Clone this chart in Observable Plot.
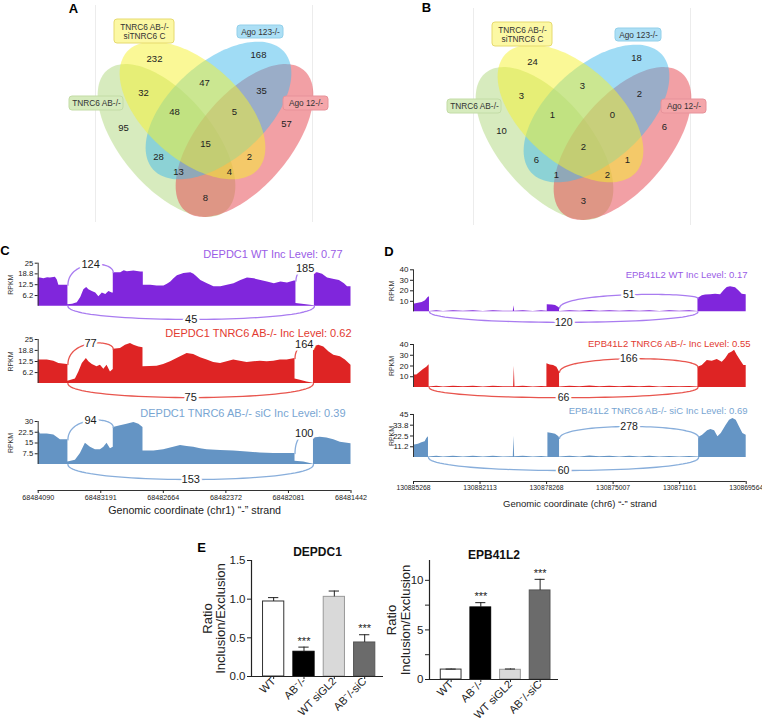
<!DOCTYPE html>
<html><head><meta charset="utf-8">
<script src="https://cdn.jsdelivr.net/npm/d3@7"></script>
<script src="https://cdn.jsdelivr.net/npm/@observablehq/plot@0.6"></script>
<style>
body{margin:0;background:#fff;}
#fig{position:relative;width:762px;height:723px;overflow:hidden;background:#fff;font-family:"Liberation Sans",Arial,Helvetica,sans-serif;}
</style></head><body><div id="fig"></div>
<script>
// ---------------- DATA ----------------
// Venn (A, B): set names (green, yellow, blue, red)
const setNames = ["TNRC6 AB-/-", "TNRC6 AB-/-\nsiTNRC6 C", "Ago 123-/-", "Ago 12-/-"];
// region counts, order: Y, B, GY, YB, BR, G, GYB, YBR, R, GYBR, GB, YR, GBR, GYR, GR
const countsA = [232, 168, 32, 47, 35, 95, 48, 5, 57, 15, 28, 2, 13, 4, 8];
const countsB = [24, 18, 3, 3, 2, 10, 1, 0, 6, 2, 6, 1, 1, 2, 3];

// C: DEPDC1 coverage [relative position 0-100, RPKM]
const depdc1WT = [[0,16.4],[0.7,16.4],[1.8,15.9],[3.0,16.6],[3.9,16.4],[5.5,16.8],[6.1,15.3],[6.6,12.2],[9.3,12.2],[9.5,12.2],[9.5,0.8],[11,1.2],[12.5,2.0],[13.6,5.0],[14.6,9.5],[15.5,10.8],[16.2,9.5],[17.3,8.6],[18.4,7.7],[19.4,5.5],[20.5,7.7],[21.6,6.8],[22.6,8.6],[23.7,7.7],[24.0,7.7],[24.0,19.5],[26.4,19.5],[27.5,20.6],[28.5,20.0],[30.6,20.4],[32.8,19.9],[33.6,19.9],[33.6,12.2],[36.0,12.2],[38,11.8],[40.2,11.8],[41.3,12.8],[42.4,14.0],[43.4,15.9],[44.5,17.7],[46.6,19.0],[48.8,19.5],[49.8,18.6],[50.9,16.8],[52.0,15.0],[54.1,13.0],[56.2,11.3],[58.4,11.3],[60.5,12.2],[62.6,13.0],[64.8,15.0],[66.9,16.4],[69.1,15.9],[71.2,15.0],[73.3,14.0],[75.5,13.0],[77.6,14.0],[79.7,13.5],[81.9,14.6],[82.4,14.6],[82.4,1.5],[85.1,1.0],[88.3,0.2],[88.3,19.5],[89.3,19.5],[90.9,18.6],[92.5,16.4],[94.7,15.5],[96.3,15.0],[97.9,13.0],[98.9,11.3],[100,11.3]];
const depdc1AB = [[0,13.3],[2.9,13.3],[5.0,12.7],[6.6,11.4],[9.3,10.8],[9.5,10.8],[9.5,1.3],[11.9,2.5],[13.0,6.6],[14.1,11.4],[15.4,14.2],[16.2,12.3],[17.3,10.8],[18.8,9.5],[19.9,10.4],[21.0,8.1],[22.0,10.4],[23.1,6.6],[24.0,8.0],[24.0,19.5],[26.3,19.9],[27.9,21.8],[29.5,22.7],[30.6,21.8],[32.2,20.8],[33.5,20.3],[33.5,9.5],[38.0,9.8],[40.1,10.8],[42.3,12.3],[45.5,15.2],[47.6,17.0],[49.7,16.5],[51.9,14.6],[54.0,13.3],[56.1,11.9],[58.3,11.4],[60.4,12.3],[62.5,13.3],[64.6,12.7],[66.8,11.9],[68.9,12.3],[71.0,12.7],[73.2,12.3],[75.3,12.7],[77.4,13.3],[79.6,13.3],[82.1,14.2],[82.1,2.5],[83.8,1.9],[85.9,0.9],[88.0,0.1],[88.0,20.8],[89.7,21.8],[91.3,20.8],[92.9,18.0],[94.5,16.1],[96.6,15.2],[98.2,13.3],[100,10.4]];
const depdc1SiC = [[0,24.0],[0.7,21.3],[2.9,21.3],[5.0,20.6],[7.1,17.2],[9.3,17.2],[9.5,17.2],[9.5,1.8],[11.9,3.0],[13.5,7.6],[15.1,14.9],[16.7,12.1],[18.3,10.3],[19.9,10.3],[21.0,12.1],[22.0,14.9],[23.1,11.0],[24.0,12.1],[24.0,25.9],[26.3,27.0],[28.4,28.1],[30.6,29.3],[32.2,28.1],[33.5,25.9],[33.5,9.4],[37.0,9.4],[40.1,10.3],[43.3,12.1],[45.5,13.3],[47.6,12.6],[49.7,12.1],[51.9,11.0],[54.0,10.3],[58.3,9.8],[62.5,9.4],[66.8,8.7],[71.0,8.0],[75.3,7.6],[79.6,7.6],[82.1,7.6],[82.1,2.3],[84.9,1.8],[88.0,0.2],[88.0,18.5],[90.2,19.0],[92.3,18.5],[94.5,17.2],[96.6,15.6],[100,14.4]];
// junctions [from, to, reads]
const depdc1WTJunc = [[9.5,24.0,124],[82.4,88.3,185],[9.5,88.3,45]];
const depdc1ABJunc = [[9.5,24.0,77],[82.1,88.0,164],[9.5,88.0,75]];
const depdc1SiCJunc = [[9.5,24.0,94],[82.1,88.0,100],[9.5,88.0,153]];
const depdc1Coords = ["68484090","68483191","68482664","68482372","68482081","68481442"];

// D: EPB41L2 coverage
const epbWT = [[0,7.3],[1.1,7.9],[2.6,8.9],[3.6,10.5],[4.4,13.7],[4.8,14.3],[4.8,0.4],[7,1.0],[9,0.4],[12,1.1],[15,0.5],[18,1.0],[21,0.4],[24,1.1],[27,0.5],[30.0,0.6],[30.2,5.7],[30.4,0.6],[33,1.0],[36,0.4],[38.5,0.9],[40.2,0.5],[40.2,6.7],[41.7,6.5],[42.7,6.0],[43.7,4.1],[43.9,3.5],[43.9,0.4],[47,1.0],[50,0.5],[53,1.2],[56,0.5],[59,1.0],[62,0.5],[65,1.0],[68,0.5],[71,1.0],[74,0.4],[77,0.9],[80,0.5],[83,0.9],[85.5,0.4],[85.5,12.7],[86.8,15.2],[87.8,15.9],[89.3,16.2],[90.8,16.8],[92.3,16.2],[93.3,20.0],[94.3,23.2],[95.3,23.8],[96.8,22.9],[97.8,20.0],[98.8,16.8],[100,16.2]];
const epbAB = [[0,11.7],[1.0,11.7],[2.0,14.2],[3.0,16.7],[4.0,18.9],[4.7,21.1],[4.7,0.5],[7,1.2],[9,0.5],[12,1.2],[15,0.6],[18,1.2],[21,0.5],[24,1.2],[27,0.6],[30.1,0.8],[30.3,19.8],[30.5,0.8],[33,1.2],[36,0.5],[38.5,1.0],[40.1,0.6],[40.1,22.0],[41.1,21.0],[42.1,20.5],[43.1,18.9],[43.9,14.2],[43.9,0.5],[47,1.2],[50,0.6],[53,1.4],[56,0.6],[59,1.2],[62,0.6],[65,1.2],[68,0.6],[71,1.2],[74,0.5],[77,1.0],[80,0.6],[83,1.0],[85.5,0.5],[85.5,18.9],[86.8,20.5],[88.3,25.2],[89.8,24.4],[91.3,26.1],[92.8,23.6],[93.8,26.8],[94.8,31.5],[95.8,33.0],[96.5,34.6],[97.3,29.9],[98.3,25.2],[99.3,20.5],[100,20.5]];
const epbSiC = [[0,12.9],[1.5,13.9],[2.5,15.3],[3.5,16.4],[4.0,19.9],[4.5,21.6],[4.5,0.5],[7,1.3],[9,0.6],[12,1.3],[15,0.6],[18,1.3],[21,0.6],[24,1.3],[27,0.6],[30.0,0.8],[30.2,22.3],[30.4,0.8],[33,1.3],[36,0.6],[38.5,1.1],[40.4,0.6],[40.4,25.8],[41.7,25.1],[42.7,24.4],[43.7,21.6],[43.9,20.0],[43.9,0.6],[47,1.3],[50,0.6],[53,1.6],[56,0.7],[59,1.3],[62,0.6],[65,1.3],[68,0.6],[71,1.3],[74,0.6],[77,1.1],[80,0.6],[83,1.1],[85.7,0.6],[85.7,20.9],[86.9,23.3],[88.4,27.9],[89.4,29.3],[90.5,27.9],[91.5,21.6],[92.5,25.1],[94.0,33.8],[95.0,39.0],[96.0,40.8],[97.0,39.0],[98.0,32.0],[99.0,25.1],[100,23.3]];
const epbWTJunc = [[43.9,85.5,51],[4.8,85.5,120]];
const epbABJunc = [[43.9,85.5,166],[4.7,85.5,66]];
const epbSiCJunc = [[43.9,85.7,278],[4.5,85.7,60]];
const epbCoords = ["130885268","130882113","130878268","130875007","130871161","130869564"];

// E: RT-qPCR ratios
const conditions = ["WT", "AB\u207B/-", "WT siGL2", "AB\u207B/-siC"];
const depdc1Ratio = [0.97, 0.32, 1.03, 0.44];
const depdc1Err = [0.05, 0.06, 0.075, 0.10];
const epbRatio = [1.0, 7.27, 0.98, 8.98];
const epbErr = [0.05, 0.48, 0.08, 1.12];
const signif = ["", "***", "", "***"];

// ---------------- LAYOUT / STYLE ----------------
const FONT = '"Liberation Sans", Arial, Helvetica, sans-serif';
const fig = document.getElementById("fig");
const baseStyle = {fontFamily: FONT, fontSize: "10px", color: "#222", background: "transparent", overflow: "visible"};
function place(el, left, top) {
  el.style.position = "absolute"; el.style.left = left + "px"; el.style.top = top + "px";
  fig.appendChild(el);
}
// Venn geometry in panel pixel coordinates (green, yellow, blue, red)
const vennEllipses = [
  {cx: 166, cy: 140, a: 92, b: 46, angle: 50},
  {cx: 192, cy: 110, a: 88, b: 48, angle: 42},
  {cx: 218, cy: 110, a: 88, b: 48, angle: 138},
  {cx: 244, cy: 140, a: 92, b: 46, angle: 130}
];
const vennFills = ["#AFD77D", "#F5F12D", "#41B9EB", "#E5414B"];
const drawOrder = [0, 3, 2, 1];
const vennBoxes = [
  {x1: 69, x2: 123, y1: 96, y2: 110, fill: "#d6ebbd", stroke: "#c3dca6"},
  {x1: 114, x2: 174, y1: 19, y2: 43, fill: "#fcf8a4", stroke: "#e6da6e"},
  {x1: 237, x2: 283, y1: 25, y2: 38, fill: "#acdff5", stroke: "#93d0ea"},
  {x1: 283, x2: 328, y1: 96, y2: 110, fill: "#f4a6aa", stroke: "#e7929a"}
];
const regionPos = [[154,58],[258,54],[143,92],[204,82],[261,90],[123,127],[174,111],[234,111],[286,123],[205,143],[158,156],[249,156],[178,171],[229,171],[205,197]];

function venn(counts, letter, lx, ly, left, top) {
  const W = 340, H = 230;
  const marks = [Plot.ruleX([95, 312], {x: d => d, y1: 5, y2: 222, stroke: "#ececec"})];
  for (const k of drawOrder) {
    const e = vennEllipses[k], th = e.angle * Math.PI / 180, pts = [];
    for (let i = 0; i <= 160; i++) {
      const t = i / 160 * 2 * Math.PI;
      pts.push({x: e.cx + e.a * Math.cos(th) * Math.cos(t) - e.b * Math.sin(th) * Math.sin(t),
                y: e.cy + e.a * Math.sin(th) * Math.cos(t) + e.b * Math.cos(th) * Math.sin(t)});
    }
    marks.push(Plot.line(pts, {x: "x", y: "y", fill: vennFills[k], fillOpacity: 0.5, stroke: "none"}));
  }
  const boxes = vennBoxes.map((b, i) => ({...b, name: setNames[i]}));
  marks.push(
    Plot.rect(boxes, {x1: "x1", x2: "x2", y1: "y1", y2: "y2", fill: "fill", stroke: "stroke", rx: 3}),
    Plot.text(boxes, {x: d => (d.x1 + d.x2) / 2, y: d => (d.y1 + d.y2) / 2, text: "name", fontSize: 8.3, lineHeight: 1.1, fill: "#333"}),
    Plot.text(counts, {x: (d, i) => regionPos[i][0], y: (d, i) => regionPos[i][1], text: d => String(d), fontSize: 9.5, fill: "#222"}),
    Plot.text([letter], {x: lx, y: ly, fontWeight: "bold", fontSize: 13, fill: "#000"})
  );
  const p = Plot.plot({width: W, height: H, margin: 0, style: baseStyle,
    x: {domain: [0, W], range: [0, W], axis: null}, y: {domain: [0, H], range: [0, H], axis: null},
    color: {type: "identity"}, marks});
  place(p, left, top);
}
venn(countsA, "A", 73, 8, 0, 0);
venn(countsB, "B", 48, 4.5, 378, 3);

// Sashimi tracks
function bezier(x1, x2, yA, yB, apex, id) {
  const c = (apex - (yA + yB) / 8) / 0.75, pts = [];
  for (let i = 0; i <= 48; i++) {
    const t = i / 48, u = 1 - t;
    pts.push({id, x: u*u*u*x1 + 3*u*u*t*x1 + 3*u*t*t*x2 + t*t*t*x2,
              y: u*u*u*yA + 3*u*u*t*c + 3*u*t*t*c + t*t*t*yB});
  }
  return pts;
}
function track(cfg) {
  const fb = cfg.frameBottom ?? (cfg.top + cfg.height);
  const mL = cfg.x0 - cfg.left, mR = cfg.left + cfg.width - cfg.x1, mB = cfg.top + cfg.height - fb;
  const px = X => (X - cfg.x0) / (cfg.x1 - cfg.x0) * 100;
  const py = Y => (cfg.base - Y) / cfg.k;
  const yTop = py(cfg.top), yBot = py(fb);
  const yMax = cfg.ticks[cfg.ticks.length - 1];
  const cov = cfg.cov;
  const startVal = x => { const p = cov.find(d => d[0] === x); return p ? p[1] : 0; };
  const endVal = x => { const ps = cov.filter(d => d[0] === x); return ps.length ? ps[ps.length - 1][1] : 0; };
  let arcs = [], labels = [];
  cfg.junc.forEach((j, i) => {
    const apex = cfg.apex[i];
    const up = apex > 0;
    arcs = arcs.concat(bezier(j[0], j[1], up ? startVal(j[0]) : 0, up ? endVal(j[1]) : 0, apex, i));
    labels.push({x: (j[0] + j[1]) / 2, y: apex, t: String(j[2])});
  });
  const marks = [
    Plot.areaY(cov, {x: d => d[0], y1: 0, y2: d => d[1], fill: cfg.color, curve: "linear"}),
    Plot.line(arcs, {x: "x", y: "y", z: "id", stroke: cfg.arcColor, strokeWidth: 1.3}),
    Plot.text(labels, {x: "x", y: "y", text: "t", fontSize: cfg.labelSize, fill: "#1a1a1a", stroke: "white", strokeWidth: 5}),
    Plot.ruleX([0], {y1: 0, y2: yMax, stroke: "#333", strokeWidth: 1}),
    Plot.axisY({ticks: cfg.ticks, tickFormat: d => String(d), tickSize: 3, tickPadding: 2, fontSize: cfg.tickFont, label: null}),
    Plot.text(["RPKM"], {x: px(cfg.rpkmX), y: yMax / 2, rotate: -90, fontSize: 7, fill: "#333"}),
    Plot.text([cfg.title], {x: px(cfg.titleX), y: py(cfg.titleY), textAnchor: "end", fill: cfg.titleColor, fontSize: cfg.titleSize})
  ];
  if (cfg.letter) marks.push(Plot.text([cfg.letter], {x: px(cfg.letterX), y: py(cfg.letterY), fontWeight: "bold", fontSize: 13, fill: "#000"}));
  if (cfg.xLabels) {
    marks.push(
      Plot.ruleY([yBot], {x1: 0, x2: 100, stroke: "#333"}),
      Plot.axisX({ticks: [0, 20, 40, 60, 80, 100], tickFormat: d => cfg.xLabels[Math.round(d / 20)], tickSize: 3, tickPadding: 1, fontSize: cfg.xTickFont, label: null}),
      Plot.text([cfg.xTitle], {frameAnchor: "bottom", dy: cfg.xTitleY - fb, fontSize: cfg.xTitleSize, fill: "#222"})
    );
  }
  const p = Plot.plot({width: cfg.width, height: cfg.height, marginLeft: mL, marginRight: mR, marginTop: 0, marginBottom: mB,
    style: baseStyle, x: {domain: [0, 100], axis: cfg.xLabels ? undefined : null}, y: {domain: [yBot, yTop]}, marks});
  place(p, cfg.left, cfg.top);
}
const PURPLE = {color: "#8026dc", arcColor: "#a97cf0", titleColor: "#9a5ce6"};
const RED = {color: "#de2424", arcColor: "#e8554e", titleColor: "#e23a30"};
const BLUE = {color: "#6494c4", arcColor: "#88aedb", titleColor: "#78a5d2"};
const C = {left: 0, width: 380, x0: 37.7, x1: 350.5, rpkmX: 10, titleSize: 11, labelSize: 11, tickFont: 7.7};
track({...C, ...PURPLE, top: 240, height: 85, base: 305.7, k: 1.72, ticks: [6.2, 12.5, 18.8, 25], cov: depdc1WT, junc: depdc1WTJunc, apex: [24.2, 21.9, -7.7],
  title: "DEPDC1 WT Inc Level: 0.77", titleX: 342, titleY: 254, letter: "C", letterX: 4.5, letterY: 250.5});
track({...C, ...RED, top: 325, height: 80, base: 383, k: 1.76, ticks: [6.2, 12.5, 18.8, 25], cov: depdc1AB, junc: depdc1ABJunc, apex: [22.7, 22.2, -8],
  title: "DEPDC1 TNRC6 AB-/- Inc Level: 0.62", titleX: 351, titleY: 333});
track({...C, ...BLUE, top: 405, height: 120, frameBottom: 490, base: 464, k: 1.433, ticks: [7.5, 15, 22.5, 30], cov: depdc1SiC, junc: depdc1SiCJunc, apex: [30.7, 21.6, -10.5],
  title: "DEPDC1 TNRC6 AB-/- siC Inc Level: 0.39", titleX: 345, titleY: 413,
  xLabels: depdc1Coords, xTickFont: 7.2, xTitle: "Genomic coordinate (chr1) \u201C-\u201D strand", xTitleY: 513, xTitleSize: 10.7});
const D = {left: 380, width: 382, x0: 413, x1: 745.7, rpkmX: 391, titleSize: 9.5, labelSize: 10.5, tickFont: 8};
track({...D, ...PURPLE, top: 240, height: 90, base: 311.3, k: 1.05, ticks: [10, 20, 30, 40], cov: epbWT, junc: epbWTJunc, apex: [16.2, -10],
  title: "EPB41L2 WT Inc Level: 0.17", titleX: 747, titleY: 274, letter: "D", letterX: 388.5, letterY: 251});
track({...D, ...RED, top: 330, height: 75, base: 387, k: 1.075, ticks: [10, 20, 30, 40], cov: epbAB, junc: epbABJunc, apex: [26.7, -9.5],
  title: "EPB41L2 TNRC6 AB-/- Inc Level: 0.55", titleX: 750, titleY: 343});
track({...D, ...BLUE, top: 405, height: 112, frameBottom: 481, base: 457, k: 0.956, ticks: [11.2, 22.5, 33.8, 45], cov: epbSiC, junc: epbSiCJunc, apex: [32.4, -13.6],
  title: "EPB41L2 TNRC6 AB-/- siC Inc Level: 0.69", titleX: 747, titleY: 410,
  xLabels: epbCoords, xTickFont: 6.8, xTitle: "Genomic coordinate (chr6) \u201C-\u201D strand", xTitleY: 506, xTitleSize: 9.5});

// Bar panels (E)
const barFills = ["#ffffff", "#000000", "#d9d9d9", "#6b6b6b"];
const barStrokes = ["#333333", "#000000", "#999999", "#555555"];
function barPanel(cfg) {
  const xmin = -0.73, xmax = 3.62;
  const mL = cfg.x0 - cfg.left, mR = cfg.left + cfg.width - cfg.x1;
  const mT = cfg.yTopPx - cfg.top, mB = cfg.top + cfg.height - cfg.y0Px;
  const unit = (cfg.x1 - cfg.x0) / (xmax - xmin);
  const kY = (cfg.y0Px - cfg.yTopPx) / cfg.yMax;
  const px = X => xmin + (X - cfg.x0) / unit;
  const py = Y => (cfg.y0Px - Y) / kY;
  const rows = conditions.map((c, i) => ({i, c, v: cfg.ratio[i], e: cfg.err[i], s: signif[i], fill: barFills[i], stroke: barStrokes[i]}));
  const marks = [
    Plot.rectY(rows, {x1: d => d.i - 0.35, x2: d => d.i + 0.35, y1: 0, y2: "v", fill: "fill", stroke: "stroke", strokeWidth: 1}),
    Plot.ruleX(rows, {x: "i", y1: "v", y2: d => d.v + d.e, stroke: "#222", strokeWidth: 1}),
    Plot.ruleY(rows, {y: d => d.v + d.e, x1: d => d.i - 0.17, x2: d => d.i + 0.17, stroke: "#222", strokeWidth: 1}),
    Plot.ruleY([0], {x1: xmin, x2: xmax, stroke: "#222", strokeWidth: 1.2}),
    Plot.ruleX([xmin], {y1: 0, y2: cfg.yMax, stroke: "#222", strokeWidth: 1.2}),
    Plot.axisY({ticks: cfg.yTicks, tickFormat: cfg.yFmt, tickSize: 4, tickPadding: 2, fontSize: 11.5, label: null}),
    Plot.axisX({ticks: [0, 1, 2, 3], tickFormat: d => conditions[d], tickRotate: -45, tickSize: 3, tickPadding: 0, fontSize: 11, label: null}),
    Plot.text(rows, {x: "i", y: d => d.v + d.e, text: "s", dy: -6, fontSize: 11, fill: "#222"}),
    Plot.text([cfg.title], {frameAnchor: "top", dy: cfg.titleDy, fontWeight: "bold", fontSize: 12, fill: "#111"}),
    Plot.text(["Ratio\nInclusion/Exclusion"], {x: px(cfg.yLabelX), y: cfg.yMax / 2, rotate: -90, fontSize: 13, lineHeight: 1.05, fill: "#222"})
  ];
  if (cfg.minorTicks) marks.push(Plot.axisY({ticks: cfg.minorTicks, tickFormat: () => "", tickSize: 4, label: null}));
  if (cfg.letter) marks.push(Plot.text([cfg.letter], {x: px(cfg.letterX), y: py(cfg.letterY), fontWeight: "bold", fontSize: 13, fill: "#000"}));
  const p = Plot.plot({width: cfg.width, height: cfg.height, marginLeft: mL, marginRight: mR, marginTop: mT, marginBottom: mB,
    style: baseStyle, color: {type: "identity"},
    x: {domain: [xmin, xmax]}, y: {domain: [0, cfg.yMax]}, marks});
  place(p, cfg.left, cfg.top);
}
barPanel({left: 190, top: 535, width: 200, height: 188, x0: 251, x1: 383, y0Px: 676, yTopPx: 560, yMax: 1.5,
  yTicks: [0, 0.5, 1.0, 1.5], yFmt: d3.format(".1f"), ratio: depdc1Ratio, err: depdc1Err, title: "DEPDC1", titleDy: -13,
  yLabelX: 213.5, letter: "E", letterX: 201, letterY: 547});
barPanel({left: 370, top: 535, width: 200, height: 188, x0: 429, x1: 558, y0Px: 679, yTopPx: 560, yMax: 12,
  yTicks: [0, 5, 10], minorTicks: [2.5, 7.5], yFmt: d => String(d), ratio: epbRatio, err: epbErr, title: "EPB41L2", titleDy: -10,
  yLabelX: 398});
</script></body></html>
